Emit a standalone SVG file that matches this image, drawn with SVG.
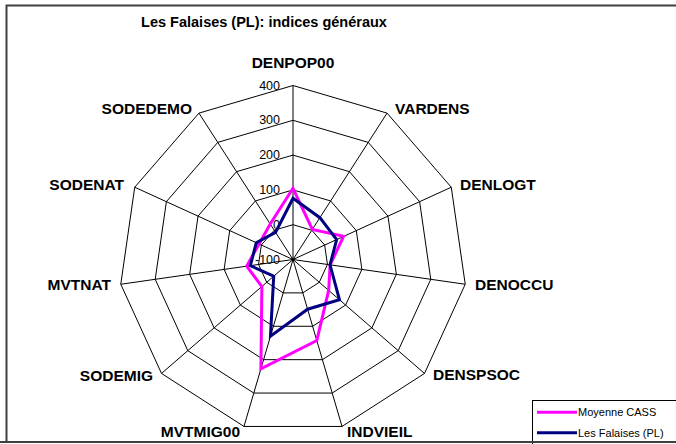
<svg xmlns="http://www.w3.org/2000/svg" width="676" height="444" viewBox="0 0 676 444">
<style>
.grid{fill:none;stroke:#000;stroke-width:1}
.lbl{font-family:"Liberation Sans",Arial,sans-serif;font-weight:bold;font-size:15.5px;fill:#000}
.tick{font-family:"Liberation Sans",Arial,sans-serif;font-size:12.5px;fill:#000;text-anchor:end}
.leg{font-family:"Liberation Sans",Arial,sans-serif;font-size:11px;fill:#000}
.s1{fill:none;stroke:#FF00FF;stroke-width:3;stroke-linejoin:miter}
.s2{fill:none;stroke:#000080;stroke-width:3;stroke-linejoin:miter}
</style>
<rect x="0" y="0" width="676" height="444" fill="#fff"/>
<rect x="6.5" y="5.5" width="700" height="436.5" fill="#fff" stroke="#404040" stroke-width="2"/>
<text x="264" y="27" font-family="Liberation Sans, Arial, sans-serif" font-weight="bold" font-size="14.5" text-anchor="middle">Les Falaises (PL): indices généraux</text>
<g id="grid">
<polygon class="grid" points="293,224.7 311.81,230.22 324.65,245.04 327.45,264.45 319.3,282.29 302.8,292.89 283.2,292.89 266.7,282.29 258.55,264.45 261.35,245.04 274.19,230.22"/>
<polygon class="grid" points="293,189.9 330.62,200.94 356.31,230.59 361.89,269.4 345.6,305.08 312.61,326.28 273.39,326.28 240.4,305.08 224.11,269.4 229.69,230.59 255.38,200.94"/>
<polygon class="grid" points="293,155.1 349.44,171.67 387.96,216.13 396.34,274.36 371.89,327.87 322.41,359.67 263.59,359.67 214.11,327.87 189.66,274.36 198.04,216.13 236.56,171.67"/>
<polygon class="grid" points="293,120.3 368.25,142.39 419.62,201.68 430.78,279.31 398.19,350.66 332.22,393.06 253.78,393.06 187.81,350.66 155.22,279.31 166.38,201.68 217.75,142.39"/>
<polygon class="grid" points="293,85.5 387.06,113.11 451.27,187.22 465.23,284.26 424.49,373.45 342.02,426.45 243.98,426.45 161.51,373.45 120.77,284.26 134.73,187.22 198.94,113.11"/>
<path class="grid" d="M293,259.5L293,85.5M293,259.5L387.06,113.11M293,259.5L451.27,187.22M293,259.5L465.23,284.26M293,259.5L424.49,373.45M293,259.5L342.02,426.45M293,259.5L243.98,426.45M293,259.5L161.51,373.45M293,259.5L120.77,284.26M293,259.5L134.73,187.22M293,259.5L198.94,113.11"/>
<circle cx="293" cy="259.5" r="1.8" fill="#000"/>
</g>
<g id="ticks">
<text class="tick" x="280" y="89.5">400</text>
<text class="tick" x="280" y="124.3">300</text>
<text class="tick" x="280" y="159.1">200</text>
<text class="tick" x="280" y="194.3">100</text>
<text class="tick" x="280" y="229.1">0</text>
<text class="tick" x="280" y="263.8">-100</text>
</g>
<g id="axis-labels">
<text class="lbl" x="293" y="68" text-anchor="middle">DENPOP00</text>
<text class="lbl" x="395" y="114">VARDENS</text>
<text class="lbl" x="460" y="190">DENLOGT</text>
<text class="lbl" x="475" y="290">DENOCCU</text>
<text class="lbl" x="433" y="380">DENSPSOC</text>
<text class="lbl" x="347" y="437">INDVIEIL</text>
<text class="lbl" x="240" y="437" text-anchor="end">MVTMIG00</text>
<text class="lbl" x="153" y="381" text-anchor="end">SODEMIG</text>
<text class="lbl" x="111" y="290" text-anchor="end">MVTNAT</text>
<text class="lbl" x="124" y="190" text-anchor="end">SODENAT</text>
<text class="lbl" x="192" y="114" text-anchor="end">SODEDEMO</text>
</g>
<g id="series-moyenne">
<polygon class="s1" points="293,188.3 312.35,229.38 343.57,236.4 330.12,264.84 328.67,290.41 316.78,340.48 260.91,368.79 261.87,286.48 246.68,266.16 259.07,244.01 270.19,224"/>
</g>
<g id="series-falaises">
<polygon class="s2" points="293,198.3 319.87,217.69 336.66,239.56 330.02,264.82 339.48,299.78 307.59,309.2 270.46,336.26 273.73,276.2 250.34,265.63 256.25,242.72 275.54,232.33"/>
</g>
<g id="legend">
<rect x="532.5" y="400.5" width="200" height="45" fill="#fff" stroke="#000" stroke-width="1"/>
<line x1="537" y1="412.3" x2="577" y2="412.3" stroke="#FF00FF" stroke-width="3"/>
<text class="leg" x="578" y="416">Moyenne CASS</text>
<line x1="537" y1="432.7" x2="577" y2="432.7" stroke="#000080" stroke-width="3"/>
<text class="leg" x="578" y="436.5">Les Falaises (PL)</text>
</g>
<line x1="0" y1="442" x2="676" y2="442" stroke="#404040" stroke-width="2"/>
</svg>
